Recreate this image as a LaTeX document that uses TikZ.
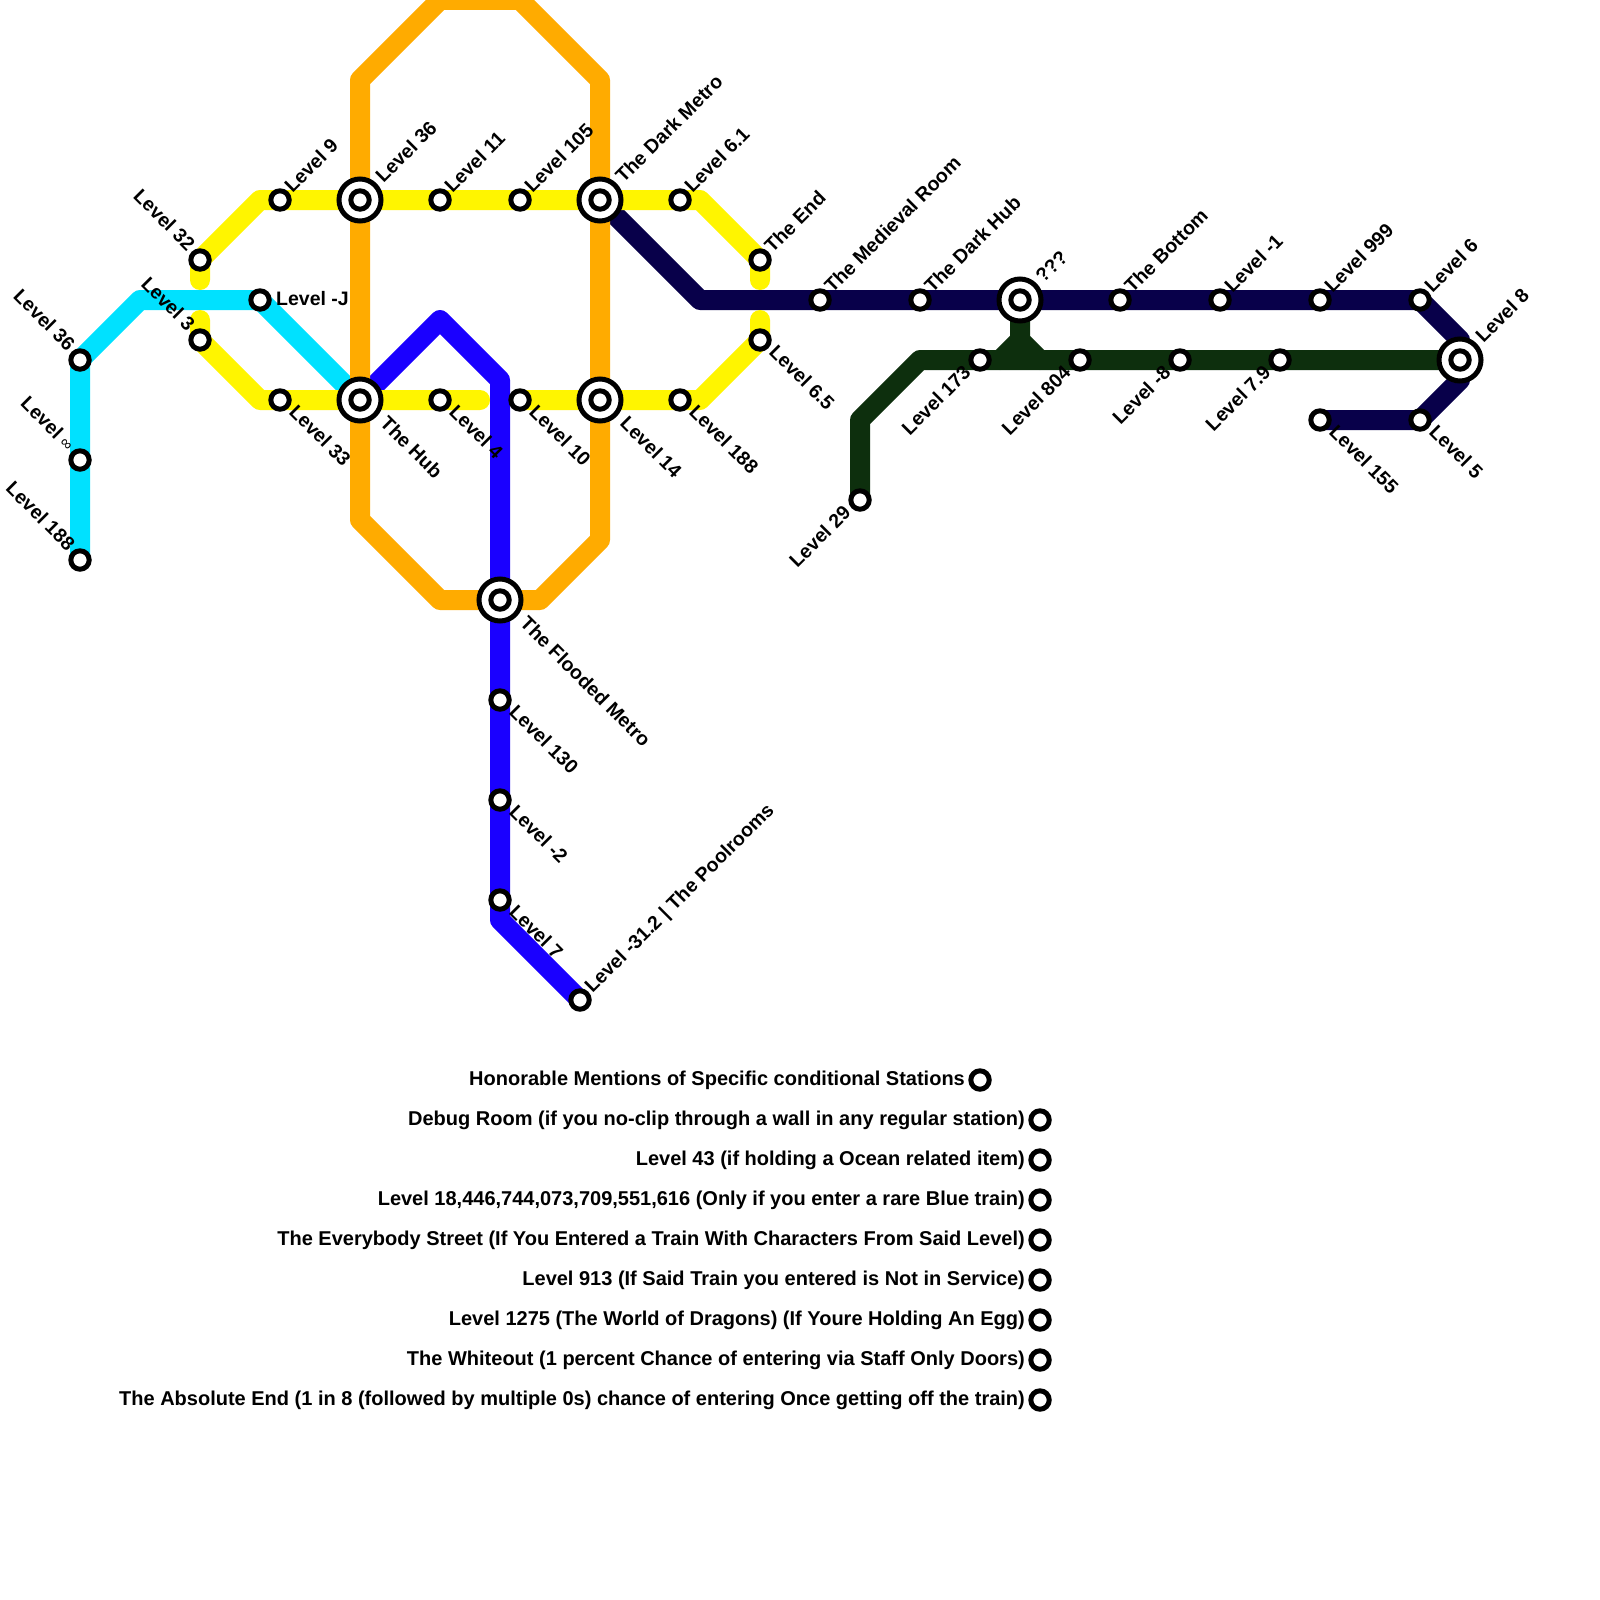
\documentclass[tikz,border=0pt]{standalone}
\usepackage{fontspec}
\setmainfont{Liberation Sans}
\usetikzlibrary{backgrounds}
\definecolor{ccyan}{HTML}{00E1FF}
\definecolor{cyel}{HTML}{FFF500}
\definecolor{corg}{HTML}{FFAB00}
\definecolor{cblu}{HTML}{1A00FF}
\definecolor{cnav}{HTML}{08004A}
\definecolor{cgrn}{HTML}{0D2F0D}
\tikzset{
  stn/.style={circle,draw=black,fill=white,line width=5pt,minimum size=18.4pt,inner sep=0pt,outer sep=0pt},
  stnbig/.style={circle,draw=black,fill=white,line width=5pt,minimum size=42pt,inner sep=0pt,outer sep=0pt},
  lbl/.style={inner sep=0pt,font=\fontsize{19.5}{20}\selectfont\bfseries},
  honlbl/.style={inner sep=0pt,font=\fontsize{20}{20}\selectfont\bfseries},
  route/.style={line width=20pt,line cap=round,line join=round},
}
\newcommand{\st}[3]{\node[stn] (#1) at (#2,#3) {};}
\newcommand{\xc}[3]{\node[stnbig] (#1o) at (#2,#3) {};\node[stn] (#1) at (#2,#3) {};}
\newcommand{\lne}[2]{\node[lbl,rotate=45,anchor=base west] (l#1) at ([shift={(12.5,-6)}]#1.center) {#2};}
\newcommand{\lse}[2]{\node[lbl,rotate=-45,anchor=base west] (l#1) at ([shift={(8,13)}]#1.center) {#2};}
\newcommand{\lsw}[2]{\node[lbl,rotate=45,anchor=base east] (l#1) at ([shift={(-8,14)}]#1.center) {#2};}
\newcommand{\lnw}[2]{\node[lbl,rotate=-45,anchor=base east] (l#1) at ([shift={(-13,-8)}]#1.center) {#2};}
\newcommand{\lnex}[2]{\node[lbl,rotate=45,anchor=base west] (l#1) at ([shift={(23.5,-16)}]#1.center) {#2};}
\newcommand{\lsex}[2]{\node[lbl,rotate=-45,anchor=base west] (l#1) at ([shift={(19,24.5)}]#1.center) {#2};}
\newcommand{\hon}[4]{\node[stn] (#1) at (#2,#3) {};\node[honlbl,anchor=base east] (l#1) at ([shift={(-15,5)}]#1.center) {#4};}
\begin{document}
\begin{tikzpicture}[x=1pt,y=-1pt]
\path[use as bounding box] (0,0) rectangle (1600,1600);
% stations
\st{cA}{80}{360}\st{cI}{80}{460}\st{cB}{80}{560}\st{sJ}{260}{300}
\st{ya}{200}{260}\st{yb}{200}{340}\st{yc}{280}{200}\st{yd}{280}{400}
\xc{hn}{360}{200}\xc{hub}{360}{400}
\st{ye}{440}{200}\st{yf}{440}{400}\st{yg}{520}{200}\st{yh}{520}{400}
\xc{dm}{600}{200}\xc{lf}{600}{400}
\st{yi}{680}{200}\st{yj}{680}{400}\st{yk}{760}{260}\st{yl}{760}{340}
\xc{fm}{500}{600}
\st{ba}{500}{700}\st{bb}{500}{800}\st{bc}{500}{900}\st{bd}{580}{1000}
\st{na}{820}{300}\st{nb}{920}{300}\xc{nq}{1020}{300}\st{nc}{1120}{300}
\st{nd}{1220}{300}\st{ne}{1320}{300}\st{nf}{1420}{300}\xc{ng}{1460}{360}
\st{nh}{1420}{420}\st{ni}{1320}{420}
\st{ga}{860}{500}\st{gb}{980}{360}\st{gc}{1080}{360}\st{gd}{1180}{360}\st{ge}{1280}{360}
% labels
\lnw{cA}{Level 36}
\lnw{cI}{Level {\fontsize{16}{16}\selectfont\mdseries ∞}}
\lnw{cB}{Level 188}
\node[lbl,anchor=base west] (lsJ) at ([shift={(16,5)}]sJ.center) {Level -J};
\lnw{ya}{Level 32}\lnw{yb}{Level 3}
\lne{yc}{Level 9}\lnex{hn}{Level 36}\lne{ye}{Level 11}\lne{yg}{Level 105}
\lnex{dm}{The Dark Metro}\lne{yi}{Level 6.1}\lne{yk}{The End}
\lne{na}{The Medieval Room}\lne{nb}{The Dark Hub}\lnex{nq}{???}
\lne{nc}{The Bottom}\lne{nd}{Level -1}\lne{ne}{Level 999}\lne{nf}{Level 6}\lnex{ng}{Level 8}
\lse{yd}{Level 33}\lsex{hub}{The Hub}\lse{yf}{Level 4}\lse{yh}{Level 10}
\lsex{lf}{Level 14}\lse{yj}{Level 188}\lse{yl}{Level 6.5}
\lsex{fm}{The Flooded Metro}\lse{ba}{Level 130}\lse{bb}{Level -2}\lse{bc}{Level 7}
\lne{bd}{Level -31.2 | The Poolrooms}
\lse{ni}{Level 155}\lse{nh}{Level 5}
\lsw{ga}{Level 29}\lsw{gb}{Level 173}\lsw{gc}{Level 804}\lsw{gd}{Level -8}\lsw{ge}{Level 7.9}
% legend
\hon{h0}{980}{1080}{Honorable Mentions of Specific conditional Stations}
\hon{h1}{1040}{1120}{Debug Room (if you no-clip through a wall in any regular station)}
\hon{h2}{1040}{1160}{Level 43 (if holding a Ocean related item)}
\hon{h3}{1040}{1200}{Level 18,446,744,073,709,551,616 (Only if you enter a rare Blue train)}
\hon{h4}{1040}{1240}{The Everybody Street (If You Entered a Train With Characters From Said Level)}
\hon{h5}{1040}{1280}{Level 913 (If Said Train you entered is Not in Service)}
\hon{h6}{1040}{1320}{Level 1275 (The World of Dragons) (If Youre Holding An Egg)}
\hon{h7}{1040}{1360}{The Whiteout (1 percent Chance of entering via Staff Only Doors)}
\hon{h8}{1040}{1400}{The Absolute End (1 in 8 (followed by multiple 0s) chance of entering Once getting off the train)}
% bend points
\coordinate (c1) at (140,300);
\coordinate (y1) at (200,280);\coordinate (y2) at (260,200);\coordinate (y3) at (700,200);\coordinate (y4) at (760,280);
\coordinate (y5) at (200,320);\coordinate (y6) at (260,400);\coordinate (y7) at (480,400);
\coordinate (y8) at (700,400);\coordinate (y9) at (760,320);
\coordinate (o1) at (360,80);\coordinate (o2) at (440,0);\coordinate (o3) at (520,0);\coordinate (o4) at (600,80);
\coordinate (o5) at (600,540);\coordinate (o6) at (540,600);\coordinate (o7) at (440,600);\coordinate (o8) at (360,520);
\coordinate (b1) at (440,320);\coordinate (b2) at (500,380);\coordinate (b3) at (500,920);
\coordinate (n1) at (700,300);\coordinate (n2) at (1460,340);\coordinate (n3) at (1460,380);
\coordinate (g1) at (860,420);\coordinate (g2) at (920,360);\coordinate (g3) at (1020,340);\coordinate (g4) at (1000,360);\coordinate (g5) at (1040,360);
\begin{scope}[on background layer]
\fill[white] (0,0) rectangle (1600,1600);
\clip (0,0) rectangle (1600,1600);
\draw[route,ccyan] (cB.center) -- (cI.center) -- (cA.center) -- (c1) -- (sJ.center) -- (hub.center);
\draw[route,cblu] (hub.center) -- (b1) -- (b2) -- (fm.center) -- (ba.center) -- (bb.center) -- (bc.center) -- (b3) -- (bd.center);
\draw[route,cnav] (dm.center) -- (n1) -- (na.center) -- (nb.center) -- (nq.center) -- (nc.center) -- (nd.center) -- (ne.center) -- (nf.center) -- (n2) -- (ng.center) -- (n3) -- (nh.center) -- (ni.center);
\draw[route,cgrn] (ga.center) -- (g1) -- (g2) -- (gb.center) -- (gc.center) -- (gd.center) -- (ge.center) -- (ng.center);
\draw[route,cgrn] (nq.center) -- (g3) -- (g4) (g3) -- (g5);
\draw[route,cyel] (y1) -- (ya.center) -- (y2) -- (yc.center) -- (hn.center) -- (ye.center) -- (yg.center) -- (dm.center) -- (yi.center) -- (y3) -- (yk.center) -- (y4);
\draw[route,cyel] (y5) -- (yb.center) -- (y6) -- (yd.center) -- (hub.center) -- (yf.center) -- (y7);
\draw[route,cyel] (yh.center) -- (lf.center) -- (yj.center) -- (y8) -- (yl.center) -- (y9);
\draw[route,corg] (o1) -- (o2) -- (o3) -- (o4) -- (dm.center) -- (lf.center) -- (o5) -- (o6) -- (fm.center) -- (o7) -- (o8) -- (hub.center) -- (hn.center) -- cycle;
\end{scope}
\end{tikzpicture}
\end{document}
